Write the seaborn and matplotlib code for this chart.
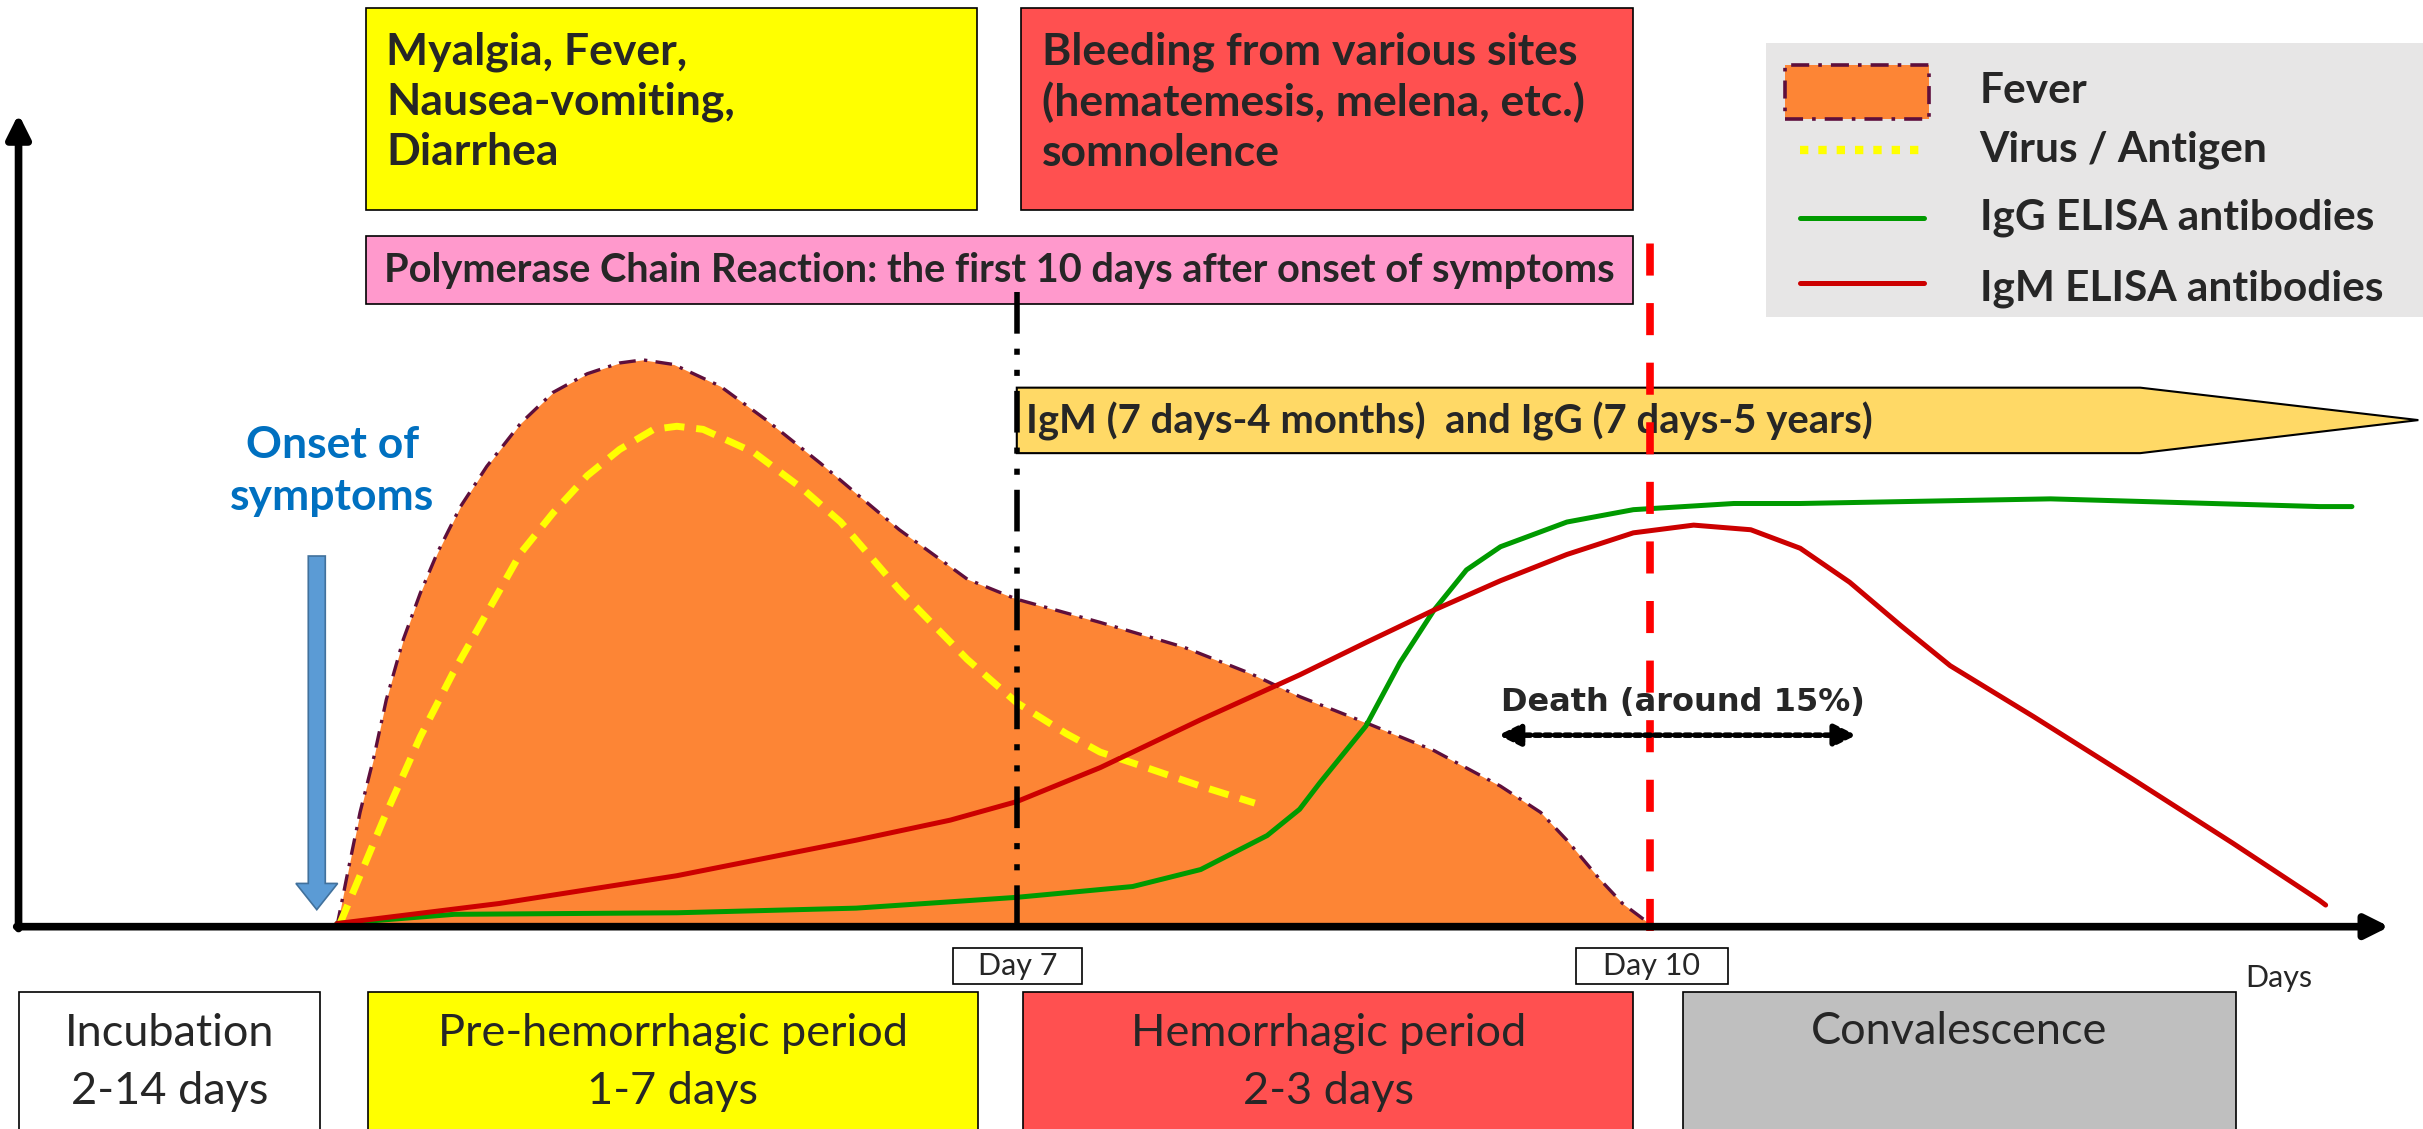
import numpy as np
import pandas as pd
import seaborn as sns
import matplotlib.pyplot as plt
from matplotlib.patches import Rectangle, Polygon, FancyArrow

# curves (time units along the x axis, level units on y)
fever_t = [20.6, 21.3, 22.1, 23.0, 23.8, 24.9, 26.0, 27.1, 28.6, 30.3, 32.5, 34.6, 36.8, 38.9,
           40.4, 42.4, 45.4, 48.4, 51.9, 54.5, 57.0, 61.4, 64.6, 70.0, 75.4, 79.7, 82.9, 87.2,
           91.6, 95.9, 98.5, 100.2, 102.3, 103.8, 105.4, 105.6]
fever_level = [0, 3.5, 7.4, 11.0, 14.7, 18.6, 21.6, 24.2, 27.2, 29.8, 32.6, 34.6, 35.8, 36.5,
               36.7, 36.4, 35.0, 32.8, 30.0, 27.8, 25.7, 22.5, 21.2, 19.7, 18.1, 16.4, 14.9, 13.2,
               11.4, 9.1, 7.4, 5.6, 3.1, 1.5, 0.3, 0]

virus_t = [20.8, 23.6, 26.0, 28.1, 30.3, 32.5, 34.6, 36.8, 38.9, 41.1, 42.6, 44.3, 47.6, 50.8,
           53.2, 57.0, 61.4, 64.6, 67.8, 70.0, 72.1, 76.5, 80.0]
virus_level = [0.2, 6.9, 12.3, 16.4, 20.3, 24.2, 26.8, 29.2, 30.9, 32.2, 32.4, 32.2, 30.7, 28.3,
               26.2, 21.8, 17.3, 14.5, 12.5, 11.3, 10.6, 9.1, 8.0]

igg_t = [20.6, 28.2, 42.6, 54.2, 64.6, 72.1, 76.5, 80.8, 82.9, 84.2, 87.2, 89.4, 91.6, 93.7,
         95.9, 100.2, 104.5, 111.0, 115.3, 131.5, 148.9, 151.0]
igg_level = [0.2, 0.8, 0.9, 1.2, 1.9, 2.6, 3.7, 5.9, 7.6, 9.3, 13.0, 17.1, 20.5, 23.1,
             24.6, 26.2, 27.0, 27.4, 27.4, 27.7, 27.2, 27.2]

igm_t = [20.6, 31.1, 42.6, 54.2, 60.3, 64.6, 70.0, 76.5, 82.9, 87.2, 91.6, 95.9, 100.2, 104.5,
         108.4, 112.1, 115.3, 118.5, 121.8, 125.0, 130.4, 136.9, 143.3, 148.9, 149.3]
igm_level = [0.2, 1.5, 3.3, 5.6, 6.9, 8.1, 10.3, 13.4, 16.3, 18.4, 20.5, 22.4, 24.1, 25.5,
             26.0, 25.7, 24.5, 22.3, 19.5, 16.9, 13.6, 9.5, 5.4, 1.7, 1.4]

onset_t = 19.3
day7_t = 64.6
day10_t = 105.6

legend_labels = ["Fever", "Virus / Antigen", "IgG ELISA antibodies", "IgM ELISA antibodies"]
period_labels = ["Incubation\n2-14 days", "Pre-hemorrhagic period\n1-7 days",
                 "Hemorrhagic period\n2-3 days", "Convalescence"]
period_colors = ["#FFFFFF", "#FFFF00", "#FF5050", "#BFBFBF"]
symptom_labels = ["Myalgia, Fever,\nNausea-vomiting,\nDiarrhea",
                  "Bleeding from various sites\n(hematemesis, melena, etc.)\nsomnolence"]

sns.set_theme(style="white")
plt.rcParams['font.family'] = ['Lato', 'DejaVu Sans']

FEVER = "#FD8535"
FEVER_EDGE = "#5E0F3C"
YELLOW = "#FFFF00"
GREEN = "#009A00"
RED = "#CC0000"
FEVER_LS = (0, (5, 2.5, 1, 2.5))

fig = plt.figure(figsize=(24.23, 11.29), dpi=100)
ax = fig.add_axes([0, 0, 1, 1])
ax.set_xlim(-1.2, 155.6)
ax.set_ylim(-13.1, 60)
ax.axis('off')

# fever area
ax.fill_between(fever_t, fever_level, color=FEVER, lw=0, zorder=2)
sns.lineplot(x=fever_t, y=fever_level, ax=ax, color=FEVER_EDGE, lw=2.4,
             linestyle=FEVER_LS, estimator=None, sort=False, zorder=3)

sns.lineplot(x=virus_t, y=virus_level, ax=ax, color=YELLOW, lw=5,
             linestyle=(0, (2.9, 1.7)), estimator=None, sort=False, zorder=5)
sns.lineplot(x=igg_t, y=igg_level, ax=ax, color=GREEN, lw=3.6,
             estimator=None, sort=False, zorder=6)
sns.lineplot(x=igm_t, y=igm_level, ax=ax, color=RED, lw=3.6,
             estimator=None, sort=False, zorder=7)

# Day 7 / Day 10 markers
ax.plot([day7_t, day7_t], [0, 41.5], color='black', lw=4,
        linestyle=(0, (7.5, 2.7, 1.1, 2.7, 1.1, 2.7)), zorder=8)
ax.plot([day10_t, day10_t], [-0.3, 45.5], color='#FF0000', lw=5.5,
        linestyle=(0, (4.2, 3.6)), zorder=8)

# axes
ax.annotate('', xy=(153.6, 0), xytext=(-0.3, 0),
            arrowprops=dict(arrowstyle='-|>', lw=5.5, color='black', mutation_scale=35), zorder=9)
ax.annotate('', xy=(0, 52.8), xytext=(0, -0.3),
            arrowprops=dict(arrowstyle='-|>', lw=5.5, color='black', mutation_scale=35), zorder=9)

# onset arrow
ax.add_patch(FancyArrow(onset_t, 24, 0, -21.2, width=1.1, head_width=2.7, head_length=1.7,
                        length_includes_head=False, fc='#5B9BD5', ec='#41719C', lw=1.2, zorder=4))
ax.text(20.3, 29.5, "Onset of\nsymptoms", ha='center', va='center', color='#0070C0',
        fontsize=32, fontweight='bold', linespacing=1.36)

# symptom boxes
for x0, x1, col, lab in [(22.5, 62.0, '#FFFF00', symptom_labels[0]),
                         (64.9, 104.5, '#FF5050', symptom_labels[1])]:
    ax.add_patch(Rectangle((x0, 46.4), x1 - x0, 13.1, fc=col, ec='black', lw=1.2, zorder=4))
    ax.text(x0 + 1.3, 53.4, lab, ha='left', va='center', fontsize=32, fontweight='bold',
            linespacing=1.29, zorder=5)

# PCR box
ax.add_patch(Rectangle((22.5, 40.3), 82.0, 4.4, fc='#FF99CC', ec='black', lw=1.2, zorder=4))
ax.text(63.5, 42.5, "Polymerase Chain Reaction: the first 10 days after onset of symptoms",
        ha='center', va='center', fontsize=28.6, fontweight='bold', zorder=5)

# antibody duration arrow
ax.add_patch(Polygon([(64.6, 34.9), (137.3, 34.9), (155.3, 32.8), (137.3, 30.66), (64.6, 30.66)],
                     closed=True, fc='#FFD966', ec='black', lw=1.5, zorder=4))
ax.text(65.2, 32.7, "IgM (7 days-4 months)  and IgG (7 days-5 years)", ha='left', va='center',
        fontsize=28.8, fontweight='bold', zorder=5)

# death annotation
ax.annotate('', xy=(119.1, 12.4), xytext=(95.6, 12.4),
            arrowprops=dict(arrowstyle='<|-|>', lw=4, color='black', linestyle=(0, (1, 0.8)),
                            mutation_scale=32), zorder=9)
ax.text(107.7, 14.5, "Death (around 15%)", ha='center', va='center', fontsize=23,
        fontweight='bold', family=['DejaVu Sans'], zorder=9)

# legend
ax.add_patch(Rectangle((113.1, 39.5), 43.0, 17.7, fc='#E7E6E6', ec='none', zorder=4))
ax.add_patch(Rectangle((114.3, 52.3), 9.3, 3.5, fc=FEVER, ec=FEVER_EDGE, lw=2.6,
                       linestyle=FEVER_LS, zorder=5))
ax.plot([115.3, 123.3], [50.3, 50.3], color=YELLOW, lw=6, linestyle=(0, (1, 1.2)),
        solid_capstyle='butt', zorder=5)
ax.plot([115.3, 123.3], [45.9, 45.9], color=GREEN, lw=3.6, zorder=5)
ax.plot([115.3, 123.3], [41.7, 41.7], color=RED, lw=3.6, zorder=5)
for yy, lab in zip([54.1, 50.3, 45.9, 41.3], legend_labels):
    ax.text(126.9, yy, lab, ha='left', va='center', fontsize=30.5, fontweight='bold', zorder=5)

# day boxes
for x0, x1, lab in [(60.5, 68.8, "Day 7"), (100.8, 110.6, "Day 10")]:
    ax.add_patch(Rectangle((x0, -3.7), x1 - x0, 2.3, fc='white', ec='black', lw=1.2, zorder=4))
    ax.text((x0 + x1) / 2, -2.55, lab, ha='center', va='center', fontsize=22, zorder=5)
ax.text(146.3, -3.3, "Days", ha='center', va='center', fontsize=22)

# period boxes
for (x0, x1), col, lab in zip([(0, 19.5), (22.6, 62.1), (65.0, 104.5), (107.7, 143.5)],
                              period_colors, period_labels):
    ax.add_patch(Rectangle((x0, -14.5), x1 - x0, 10.3, fc=col, ec='black', lw=1.2, zorder=4))
    two = '\n' in lab
    ax.text((x0 + x1) / 2, -8.8 if two else -6.8, lab, ha='center', va='center',
            fontsize=32.5, linespacing=1.53, zorder=5)

fig.savefig("out.png", dpi=100)
